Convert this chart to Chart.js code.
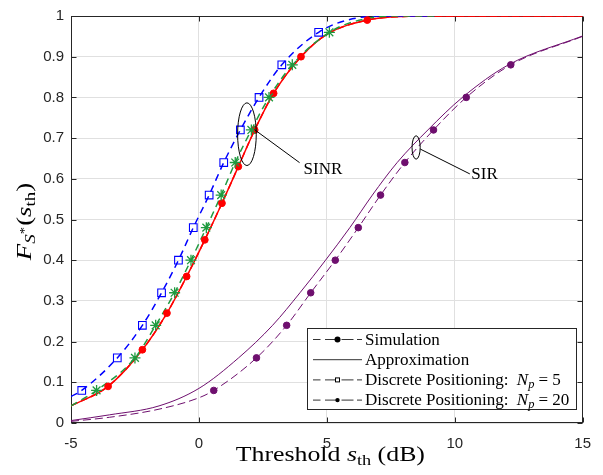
<!DOCTYPE html>
<html><head><meta charset="utf-8">
<script src="https://cdn.jsdelivr.net/npm/chart.js@4"></script>
<style>html,body{margin:0;padding:0;background:#fff;overflow:hidden}#wrap{width:603px;height:475px}</style>
</head><body><div id="wrap"><canvas id="c" width="603" height="475"></canvas></div>
<script>
// ---- axis ticks ----
const xTicks = [-5, 0, 5, 10, 15];
const xTickLabels = ['-5', '0', '5', '10', '15'];
const yTicks = [0, 0.1, 0.2, 0.3, 0.4, 0.5, 0.6, 0.7, 0.8, 0.9, 1];
const yTickLabels = ['0', '0.1', '0.2', '0.3', '0.4', '0.5', '0.6', '0.7', '0.8', '0.9', '1'];

// ---- SINR: approximation (solid red) ----
const sinrApproxX = [-5, -3.55, -2.21, -1.25, -0.48, 0.23, 0.90, 1.54, 2.18, 2.92, 3.99, 5.0, 6.58, 8, 9, 15];
const sinrApproxY = [0.042, 0.09, 0.18, 0.27, 0.36, 0.45, 0.54, 0.63, 0.72, 0.81, 0.90, 0.955, 0.99, 0.999, 1, 1];
// ---- SINR: simulation (red dashed + dots) ----
const sinrSimCurveX = [-5, -3.55, -2.21, -1.25, -0.48, 0.23, 0.90, 1.54, 2.18, 2.92, 3.99, 5.0, 6.58, 8, 9, 15];
const sinrSimCurveY = [0.042, 0.09, 0.18, 0.27, 0.36, 0.45, 0.54, 0.63, 0.72, 0.81, 0.90, 0.955, 0.99, 0.999, 1, 1];
const sinrSimMarkX = [-3.55, -2.21, -1.25, -0.48, 0.23, 0.90, 1.54, 2.18, 2.92, 3.99, 6.58];
const sinrSimMarkY = [0.09, 0.18, 0.27, 0.36, 0.45, 0.54, 0.63, 0.72, 0.81, 0.90, 0.99];
// ---- SINR: discrete positioning Np = 5 (blue) ----
const dp5CurveX = [-5, -4.58, -3.19, -2.21, -1.46, -0.80, -0.22, 0.40, 0.97, 1.62, 2.35, 3.24, 4.68, 6.0, 7.5, 9.2];
const dp5CurveY = [0.065, 0.08, 0.16, 0.24, 0.32, 0.40, 0.48, 0.56, 0.64, 0.72, 0.80, 0.88, 0.96, 0.993, 1, 1];
const dp5MarkX = [-4.58, -3.19, -2.21, -1.46, -0.80, -0.22, 0.40, 0.97, 1.62, 2.35, 3.24, 4.68];
const dp5MarkY = [0.08, 0.16, 0.24, 0.32, 0.40, 0.48, 0.56, 0.64, 0.72, 0.80, 0.88, 0.96];
// ---- SINR: discrete positioning Np = 20 (green) ----
const dp20CurveX = [-5, -4.0, -2.5, -1.69, -0.95, -0.31, 0.29, 0.87, 1.42, 2.05, 2.74, 3.65, 5.1, 6.5, 8, 9.2];
const dp20CurveY = [0.042, 0.08, 0.16, 0.24, 0.32, 0.40, 0.48, 0.56, 0.64, 0.72, 0.80, 0.88, 0.96, 0.993, 1, 1];
const dp20MarkX = [-4.0, -2.5, -1.69, -0.95, -0.31, 0.29, 0.87, 1.42, 2.05, 2.74, 3.65, 5.1];
const dp20MarkY = [0.08, 0.16, 0.24, 0.32, 0.40, 0.48, 0.56, 0.64, 0.72, 0.80, 0.88, 0.96];
// ---- SIR: approximation (solid purple) ----
const sirApproxX = [-5, -3.5, -1.56, 0, 1.55, 2.88, 3.95, 4.95, 5.9, 6.78, 7.75, 8.95, 10.3, 12.1, 15];
const sirApproxY = [0.006, 0.020, 0.042, 0.085, 0.16, 0.24, 0.32, 0.40, 0.48, 0.56, 0.64, 0.72, 0.80, 0.88, 0.951];
// ---- SIR: simulation (dashed purple + dots) ----
const sirSimCurveX = [-5, -3.5, -1.56, 0, 0.58, 2.25, 3.43, 4.37, 5.33, 6.23, 7.1, 8.05, 9.17, 10.45, 12.19, 15];
const sirSimCurveY = [0.004, 0.014, 0.034, 0.062, 0.08, 0.16, 0.24, 0.32, 0.40, 0.48, 0.56, 0.64, 0.72, 0.80, 0.88, 0.95];
const sirSimMarkX = [0.58, 2.25, 3.43, 4.37, 5.33, 6.23, 7.1, 8.05, 9.17, 10.45, 12.19];
const sirSimMarkY = [0.08, 0.16, 0.24, 0.32, 0.40, 0.48, 0.56, 0.64, 0.72, 0.80, 0.88];

// ---- legend / annotation text ----
const legendLabels = ['Simulation', 'Approximation', 'Discrete Positioning:', 'Discrete Positioning:'];
const legendNp = [null, null, '5', '20'];
const annLabels = ['SINR', 'SIR'];
// ellipse centre / radii and leader lines in data units
const annEllipse = [[1.877, 0.7096, 0.365, 0.077], [8.49, 0.677, 0.16, 0.0287]];
const annLeader = [[2.177, 0.7206, 3.935, 0.6397], [8.654, 0.673, 10.59, 0.612]];
const annText = [[4.09, 0.612], [10.65, 0.600]];

const RED = '#ff0000', BLUE = '#0000ff', GREEN = '#1f9a3f', PURPLE = '#6e0f6e';
const SANS = '"Liberation Sans", Arial, sans-serif';
const SERIF = '"Liberation Serif", "Times New Roman", serif';

function pts(xs, ys) { return xs.map((v, i) => ({ x: v, y: ys[i] })); }
function lineDS(label, xs, ys, color, width, dash, order) {
  return { label, data: pts(xs, ys), borderColor: color, borderWidth: width, borderDash: dash,
    pointRadius: 0, pointHoverRadius: 0, fill: false, cubicInterpolationMode: 'monotone', order };
}
function markDS(label, xs, ys, color, style, r, filled, bw, order) {
  return { label, data: pts(xs, ys), showLine: false, pointStyle: style, pointRadius: r,
    pointHoverRadius: r, borderColor: color, pointBorderColor: color,
    pointBackgroundColor: filled ? color : 'rgba(0,0,0,0)', pointBorderWidth: bw, order };
}

// draw a row of text runs; sx = horizontal stretch (Computer-Modern-like width)
function drawRuns(ctx, runs, x, y, align, sx) {
  sx = sx || 1;
  let total = 0;
  runs.forEach(r => { ctx.font = r.f; r.w = ctx.measureText(r.t).width; total += r.w + (r.gap || 0); });
  ctx.save();
  ctx.translate(x, y);
  ctx.scale(sx, 1);
  let cx = align === 'center' ? -total / 2 : 0;
  runs.forEach(r => { ctx.font = r.f; ctx.fillText(r.t, cx, r.dy || 0); cx += r.w + (r.gap || 0); });
  ctx.restore();
}

const framePlugin = {
  id: 'frame',
  beforeDatasetsDraw(chart) {
    const { ctx, chartArea: a, scales: { x, y } } = chart;
    ctx.save();
    ctx.strokeStyle = '#262626';
    ctx.lineWidth = 1;
    const L = Math.round(a.left) + 0.5, R = Math.round(a.right) - 0.5, T = Math.round(a.top) + 0.5, B = Math.round(a.bottom) - 0.5;
    ctx.strokeRect(L, T, R - L, B - T);
    ctx.beginPath();
    xTicks.forEach(v => {
      const p = Math.round(x.getPixelForValue(v)) + 0.5;
      ctx.moveTo(p, B); ctx.lineTo(p, B - 5);
      ctx.moveTo(p, T); ctx.lineTo(p, T + 5);
    });
    yTicks.forEach(v => {
      const p = Math.round(y.getPixelForValue(v)) + 0.5;
      ctx.moveTo(L, p); ctx.lineTo(L + 5, p);
      ctx.moveTo(R, p); ctx.lineTo(R - 5, p);
    });
    ctx.stroke();
    ctx.restore();
  }
};

const decorPlugin = {
  id: 'decor',
  afterDatasetsDraw(chart) {
    const { ctx, chartArea: a, scales: { x, y } } = chart;
    ctx.save();
    ctx.fillStyle = '#000';
    ctx.textBaseline = 'alphabetic';
    // x axis title
    drawRuns(ctx, [
      { t: 'Threshold ', f: '20.5px ' + SERIF },
      { t: 's', f: 'italic 20.5px ' + SERIF },
      { t: 'th', f: '14.5px ' + SERIF, dy: 4 },
      { t: ' (dB)', f: '20.5px ' + SERIF }
    ], (a.left + a.right) / 2 + 3.5, 461, 'center', 1.26);
    // y axis title (rotated)
    ctx.save();
    ctx.translate(31, (a.top + a.bottom) / 2 + 2);
    ctx.rotate(-Math.PI / 2);
    drawRuns(ctx, [
      { t: 'F', f: 'italic 22px ' + SERIF },
      { t: 'S', f: 'italic 15.5px ' + SERIF, dy: 4 },
      { t: '*', f: '12px ' + SERIF, dy: -3, gap: 1 },
      { t: '(', f: '22px ' + SERIF },
      { t: 's', f: 'italic 22px ' + SERIF },
      { t: 'th', f: '15.5px ' + SERIF, dy: 4 },
      { t: ')', f: '22px ' + SERIF }
    ], 0, 0, 'center', 1.22);
    ctx.restore();

    // annotations
    ctx.strokeStyle = '#000';
    ctx.lineWidth = 1;
    annLabels.forEach((lab, i) => {
      const [ex, ey, rx, ry] = annEllipse[i];
      const cx = x.getPixelForValue(ex), cy = y.getPixelForValue(ey);
      const rpx = Math.abs(x.getPixelForValue(ex + rx) - cx), rpy = Math.abs(y.getPixelForValue(ey + ry) - cy);
      ctx.beginPath(); ctx.ellipse(cx, cy, rpx, rpy, 0, 0, Math.PI * 2); ctx.stroke();
      const [x1, y1, x2, y2] = annLeader[i];
      ctx.beginPath();
      ctx.moveTo(x.getPixelForValue(x1), y.getPixelForValue(y1));
      ctx.lineTo(x.getPixelForValue(x2), y.getPixelForValue(y2));
      ctx.stroke();
      drawRuns(ctx, [{ t: lab, f: '17px ' + SERIF }], x.getPixelForValue(annText[i][0]), y.getPixelForValue(annText[i][1]), 'left', 1.0);
    });

    // legend
    const bx = 307.5, by = 328.5, bw = 269, bh = 81;
    ctx.fillStyle = '#fff';
    ctx.fillRect(bx, by, bw, bh);
    ctx.strokeStyle = '#262626';
    ctx.strokeRect(bx, by, bw, bh);
    const lx0 = 313, lx1 = 362, lmid = (lx0 + lx1) / 2;
    legendLabels.forEach((lab, i) => {
      const ry = 339.5 + i * 20.2;
      ctx.strokeStyle = '#333';
      ctx.lineWidth = 1;
      ctx.beginPath();
      if (i === 1) {
        ctx.moveTo(lx0, ry); ctx.lineTo(lx1, ry);
      } else {
        [[0, 7.5], [12, 24], [28.5, 40.5], [44, 49]].forEach(s => { ctx.moveTo(lx0 + s[0], ry); ctx.lineTo(lx0 + s[1], ry); });
      }
      ctx.stroke();
      ctx.fillStyle = '#000';
      if (i === 0) { ctx.beginPath(); ctx.arc(lmid, ry, 3, 0, Math.PI * 2); ctx.fill(); }
      if (i === 2) { ctx.fillStyle = '#fff'; ctx.fillRect(lmid - 2.5, ry - 2.5, 5, 5); ctx.strokeStyle = '#000'; ctx.strokeRect(lmid - 2, ry - 2, 4, 4); }
      if (i === 3) { ctx.beginPath(); ctx.arc(lmid, ry, 2.2, 0, Math.PI * 2); ctx.fill(); }
      ctx.fillStyle = '#000';
      const runs = [{ t: lab, f: '16.4px ' + SERIF }];
      if (legendNp[i]) {
        runs[0].gap = 8;
        runs.push({ t: 'N', f: 'italic 16.4px ' + SERIF });
        runs.push({ t: 'p', f: 'italic 12px ' + SERIF, dy: 3, gap: 4 });
        runs.push({ t: '=', f: '16.4px ' + SERIF, gap: 4 });
        runs.push({ t: legendNp[i], f: '16.4px ' + SERIF });
      }
      drawRuns(ctx, runs, 365, ry + 5, 'left', 1.04);
    });
    ctx.restore();
  }
};

new Chart(document.getElementById('c'), {
  type: 'line',
  data: {
    datasets: [
      lineDS('SIR Approximation', sirApproxX, sirApproxY, PURPLE, 1, [], 12),
      lineDS('SIR Simulation', sirSimCurveX, sirSimCurveY, PURPLE, 1, [8, 4], 11),
      lineDS('SINR Approximation', sinrApproxX, sinrApproxY, RED, 1.5, [], 10),
      lineDS('SINR Simulation', sinrSimCurveX, sinrSimCurveY, RED, 1.5, [7, 4], 9),
      lineDS('Discrete Positioning Np=5', dp5CurveX, dp5CurveY, BLUE, 1.5, [7, 5], 8),
      lineDS('Discrete Positioning Np=20', dp20CurveX, dp20CurveY, GREEN, 1.5, [7, 5], 7),
      markDS('SINR Simulation markers', sinrSimMarkX, sinrSimMarkY, RED, 'circle', 3.4, true, 1, 4),
      markDS('Np=5 markers', dp5MarkX, dp5MarkY, BLUE, 'rect', 5.4, false, 1.1, 3),
      markDS('Np=20 markers', dp20MarkX, dp20MarkY, GREEN, 'star', 5.5, false, 1.3, 2),
      markDS('SIR Simulation markers', sirSimMarkX, sirSimMarkY, PURPLE, 'circle', 3.3, true, 1, 1)
    ]
  },
  options: {
    responsive: false,
    devicePixelRatio: 1,
    animation: false,
    events: [],
    layout: { padding: { left: 0, top: 15, right: 12, bottom: 0 } },
    plugins: { legend: { display: false }, tooltip: { enabled: false } },
    scales: {
      x: {
        type: 'linear', min: -5, max: 15,
        afterBuildTicks: s => { s.ticks = xTicks.map(v => ({ value: v })); },
        afterFit: s => { s.height = 52; },
        grid: { color: '#e0e0e0', lineWidth: 1, drawTicks: false },
        border: { display: false },
        ticks: { padding: 12, color: '#262626', font: { family: SANS, size: 15 }, maxRotation: 0,
          callback: (v, i) => xTickLabels[i] }
      },
      y: {
        type: 'linear', min: 0, max: 1,
        afterBuildTicks: s => { s.ticks = yTicks.map(v => ({ value: v })); },
        afterFit: s => { s.width = 71; },
        grid: { color: '#e0e0e0', lineWidth: 1, drawTicks: false },
        border: { display: false },
        ticks: { padding: 7, color: '#262626', font: { family: SANS, size: 15 },
          callback: (v, i) => yTickLabels[i] }
      }
    }
  },
  plugins: [framePlugin, decorPlugin]
});
</script>
</body></html>
